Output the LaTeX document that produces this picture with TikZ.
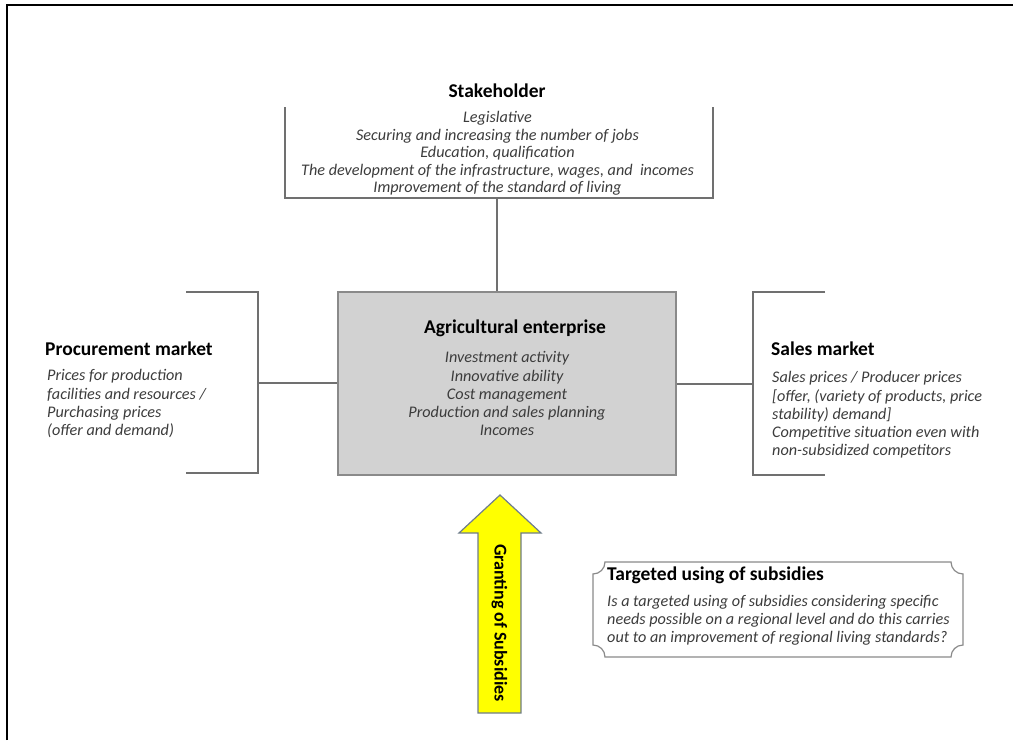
\documentclass[tikz,border=0pt]{standalone}
\usepackage{fontspec}
\setmainfont{Carlito}
\definecolor{linegray}{HTML}{707070}
\definecolor{boxfill}{HTML}{D2D2D2}
\definecolor{boxline}{HTML}{8A8A8A}
\definecolor{bodygray}{HTML}{3C3C3C}
\definecolor{arrowyellow}{HTML}{FFFF00}
\definecolor{arrowline}{HTML}{6E7C8C}
\tikzset{
  x=1pt, y=1pt,
  bracket/.style={draw=linegray, line width=1.2pt},
  title/.style={font=\fontsize{19.5}{22}\selectfont\bfseries, text=black, inner sep=0pt},
  body/.style={font=\fontsize{16.2}{18.1}\selectfont\itshape, text=bodygray, inner sep=0pt},
  stbody/.style={font=\fontsize{16.2}{17.5}\selectfont\itshape, text=bodygray, inner sep=0pt},
}
\begin{document}
\begin{tikzpicture}
\useasboundingbox (0,0) rectangle (1013,-740);
% frame
\draw[line width=2pt, black] (7,-740) -- (7,-5) -- (1013,-5);

% Stakeholder
\node[title, anchor=base] (sth) at (497,-97) {Stakeholder};
\node[stbody, align=center, anchor=north] (stb) at (497.5,-111.5) {Legislative\\Securing and increasing the number of jobs\\Education, qualification\\The development of the infrastructure, wages, and\ \ incomes\\Improvement of the standard of living};
\coordinate (sb) at (497,-198);
\draw[bracket] (285,-107) -- (285,-198) -- (713,-198) -- (713,-107);

% Enterprise
\node[draw=boxline, fill=boxfill, line width=1.5pt, minimum width=338, minimum height=183, inner sep=0pt] (ent) at (507,-383.5) {};
\node[title, anchor=base] (entt) at (515,-333) {Agricultural enterprise};
\node[body, align=center, anchor=north] (entb) at (507,-351.5) {Investment activity\\Innovative ability\\Cost management\\Production and sales planning\\Incomes};
\draw[bracket] (sb) -- (ent.north -| sb);

% Procurement
\draw[bracket] (186,-292) -- (258,-292) -- (258,-473) -- (186,-473);
\coordinate (pb) at (258,-383);
\node[title, anchor=base west] (prt) at (45,-355) {Procurement market};
\node[body, align=left, anchor=north west] (prb) at (47,-369.5) {Prices for production\\facilities and resources /\\Purchasing prices\\(offer and demand)};
\draw[bracket] (pb) -- (ent.west |- pb);

% Sales
\draw[bracket] (825,-292) -- (753,-292) -- (753,-475) -- (825,-475);
\coordinate (sm) at (753,-384);
\node[title, anchor=base west] (smt) at (771,-355) {Sales market};
\node[body, align=left, anchor=north west] (smb) at (772,-371.5) {Sales prices / Producer prices\\{[}offer, (variety of products, price\\stability) demand{]}\\Competitive situation even with\\non-subsidized competitors};
\draw[bracket] (ent.east |- sm) -- (sm);

% Arrow
\draw[fill=arrowyellow, draw=arrowline, line width=1.2pt, line join=miter]
  (478,-713) -- (478,-533) -- (459,-533) -- (500,-495) -- (541,-533) -- (521,-533) -- (521,-713) -- cycle;
\node[font=\fontsize{18}{20}\selectfont\bfseries, rotate=-90, inner sep=0pt] (grant) at (499.5,-623) {Granting of Subsidies};

% Callout
\def\r{12}
\draw[draw=boxline, line width=1.2pt, fill=white]
  (593+\r,-562) -- (963-\r,-562) arc[start angle=180, end angle=270, radius=\r]
  -- (963,-657+\r) arc[start angle=90, end angle=180, radius=\r]
  -- (593+\r,-657) arc[start angle=0, end angle=90, radius=\r]
  -- (593,-562-\r) arc[start angle=270, end angle=360, radius=\r] -- cycle;
\node[title, anchor=base west] (tgt) at (607,-580) {Targeted using of subsidies};
\node[body, align=left, anchor=north west] (tgb) at (607,-595) {Is a targeted using of subsidies considering specific\\needs possible on a regional level and do this carries\\out to an improvement of regional living standards?};
\end{tikzpicture}
\end{document}
